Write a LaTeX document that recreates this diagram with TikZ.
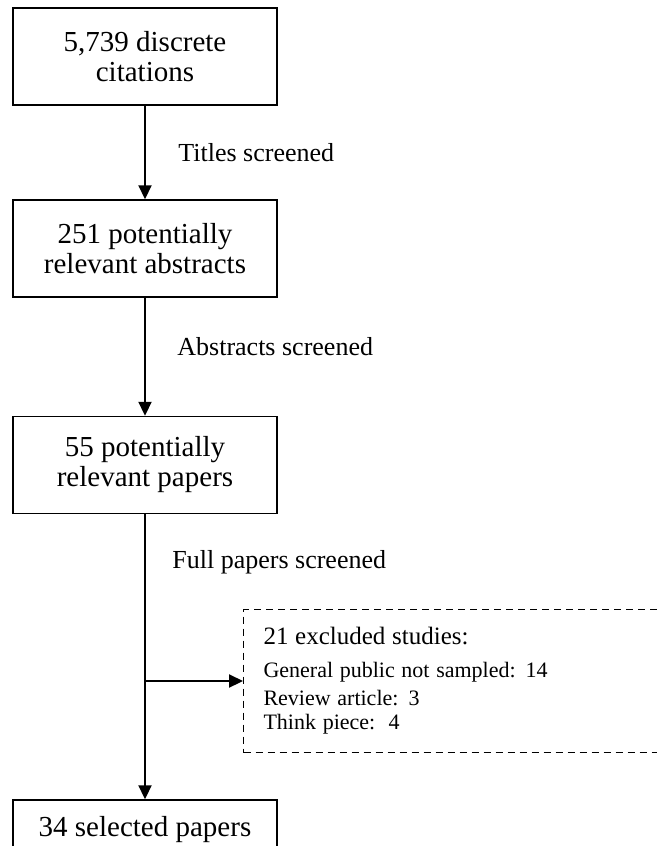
\documentclass[tikz,border=0pt]{standalone}
\usepackage{fontspec}
\setmainfont{Liberation Serif}
\usetikzlibrary{arrows.meta, positioning}

\begin{document}
\begin{tikzpicture}[x=0.5pt, y=-0.5pt,
  box/.style={draw, line width=0.75pt, minimum width=132pt, minimum height=48.5pt,
    align=center, inner sep=2pt, font=\fontsize{14.5}{15}\selectfont},
  flow/.style={line width=1.1pt, -{Triangle[length=7pt, width=6.5pt]}},
  note/.style={anchor=west, inner sep=0pt, font=\fontsize{13}{15}\selectfont}]
  \useasboundingbox (0,0) rectangle (657,846);
  \clip (0,0) rectangle (657,846);
  % boxes
  \node[box] (cites) at (145,56.5) {5,739 discrete\\citations};
  \node[box] (abstr) at (145,248.5) {251 potentially\\relevant abstracts};
  \node[box] (papers) at (145,465) {55 potentially\\relevant papers};
  \node[box, minimum height=30pt] (chosen) at (145,830) {34 selected papers};
  \node[draw, line width=0.55pt, dash pattern=on 3.5pt off 2.5pt, anchor=west,
    text width=203.5pt, inner xsep=10pt, minimum height=71.5pt, align=left]
    (excl) at (243,681) {{\fontsize{12.5}{16}\selectfont 21 excluded studies:}\\[2.5pt]
    {\fontsize{11}{14}\selectfont General public not sampled: 14\\
    Review article: 3\\
    Think piece:\ \ 4}};
  % labels
  \node[note] (t1) at (178,153) {Titles screened};
  \node[note] (t2) at (177,347) {Abstracts screened};
  \node[note] (t3) at (172,562) {Full papers screened};
  % arrows
  \coordinate (split) at (papers.south |- excl.west);
  \draw[flow] (cites) -- (abstr);
  \draw[flow] (abstr) -- (papers);
  \draw[flow] (papers) -- (chosen);
  \draw[flow] (split) -- (excl.west);
\end{tikzpicture}
\end{document}
